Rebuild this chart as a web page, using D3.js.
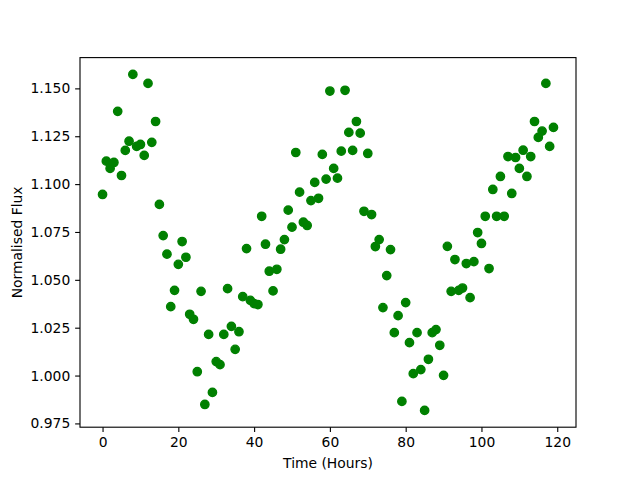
<!DOCTYPE html>
<html>
<head>
<meta charset="utf-8">
<script src="https://cdn.jsdelivr.net/npm/d3@7"></script>
<style>
  html, body { margin: 0; padding: 0; background: #fff; }
  svg { display: block; }
  text { font-family: "DejaVu Sans", sans-serif; }
</style>
</head>
<body>
<svg id="chart" width="640" height="480"></svg>
<script>
// ---- Data ----
const hours = d3.range(0, 120);
const flux = [
  1.0946, 1.1120, 1.1082, 1.1113, 1.1380, 1.1045, 1.1176, 1.1224, 1.1573, 1.1197,
  1.1207, 1.1150, 1.1526, 1.1218, 1.1327, 1.0894, 1.0731, 1.0634, 1.0360, 1.0445,
  1.0581, 1.0700, 1.0618, 1.0320, 1.0294, 1.0020, 1.0440, 0.9849, 1.0215, 0.9912,
  1.0073, 1.0057, 1.0215, 1.0454, 1.0257, 1.0137, 1.0229, 1.0412, 1.0663, 1.0393,
  1.0376, 1.0371, 1.0832, 1.0686, 1.0545, 1.0442, 1.0555, 1.0660, 1.0710, 1.0864,
  1.0775, 1.1165, 1.0958, 1.0801, 1.0784, 1.0914, 1.1009, 1.0926, 1.1155, 1.1026,
  1.1486, 1.1082, 1.1031, 1.1172, 1.1490, 1.1270, 1.1176, 1.1327, 1.1266, 1.0858,
  1.1160, 1.0841, 1.0674, 1.0710, 1.0355, 1.0522, 1.0658, 1.0224, 1.0313, 0.9865,
  1.0381, 1.0172, 1.0010, 1.0224, 1.0031, 0.9818, 1.0085, 1.0224, 1.0240, 1.0158,
  1.0001, 1.0675, 1.0440, 1.0606, 1.0445, 1.0457, 1.0585, 1.0407, 1.0595, 1.0747,
  1.0690, 1.0832, 1.0559, 1.0972, 1.0832, 1.1040, 1.0832, 1.1144, 1.0951, 1.1139,
  1.1082, 1.1177, 1.1040, 1.1144, 1.1327, 1.1244, 1.1277, 1.1526, 1.1197, 1.1296
];
const xTicks = [0, 20, 40, 60, 80, 100, 120];
const yTicks = [0.975, 1.000, 1.025, 1.050, 1.075, 1.100, 1.125, 1.150];
const xLabel = "Time (Hours)";
const yLabel = "Normalised Flux";

// ---- Layout (matplotlib defaults) ----
const W = 640, H = 480;
const axL = 80, axR = 576, axT = 57.6, axB = 427.2;
const pt = 100 / 72;

function padded(ext) {
  const m = (ext[1] - ext[0]) * 0.05;
  return [ext[0] - m, ext[1] + m];
}

const x = d3.scaleLinear().domain(padded(d3.extent(hours))).range([axL, axR]);
const y = d3.scaleLinear().domain(padded(d3.extent(flux))).range([axB, axT]);

const svg = d3.select("#chart");
svg.append("rect").attr("width", W).attr("height", H).attr("fill", "#fff");

const fontSize = 10 * pt;

// points
svg.append("g")
  .selectAll("circle")
  .data(hours.map((h, i) => ({ h, v: flux[i] })))
  .join("circle")
  .attr("cx", d => x(d.h))
  .attr("cy", d => y(d.v))
  .attr("r", 3 * pt)
  .attr("fill", "#008000")
  .attr("stroke", "#008000")
  .attr("stroke-width", 1 * pt);

// axes
const tickLen = 3.5 * pt, tickPad = 3.5 * pt;
const xAxis = d3.axisBottom(x).tickValues(xTicks).tickFormat(d3.format("d"))
  .tickSize(tickLen).tickPadding(tickPad).tickSizeOuter(0);
const yAxis = d3.axisLeft(y).tickValues(yTicks).tickFormat(d3.format(".3f"))
  .tickSize(tickLen).tickPadding(tickPad).tickSizeOuter(0);

const gx = svg.append("g").attr("transform", `translate(0,${axB})`).call(xAxis);
const gy = svg.append("g").attr("transform", `translate(${axL},0)`).call(yAxis);
[gx, gy].forEach(g => {
  g.select(".domain").remove();
  g.selectAll(".tick line").attr("stroke", "#000").attr("stroke-width", 0.8 * pt);
  g.selectAll(".tick text").attr("fill", "#000")
    .style("font-family", "'DejaVu Sans', sans-serif")
    .style("font-size", fontSize + "px");
});

// spines
svg.append("rect")
  .attr("x", axL).attr("y", axT)
  .attr("width", axR - axL).attr("height", axB - axT)
  .attr("fill", "none").attr("stroke", "#000").attr("stroke-width", 0.8 * pt);

// labels
svg.append("text")
  .attr("x", (axL + axR) / 2).attr("y", 468)
  .attr("text-anchor", "middle")
  .style("font-size", fontSize + "px")
  .text(xLabel);

svg.append("text")
  .attr("transform", `translate(22,${(axT + axB) / 2}) rotate(-90)`)
  .attr("text-anchor", "middle")
  .style("font-size", fontSize + "px")
  .text(yLabel);
</script>
</body>
</html>
